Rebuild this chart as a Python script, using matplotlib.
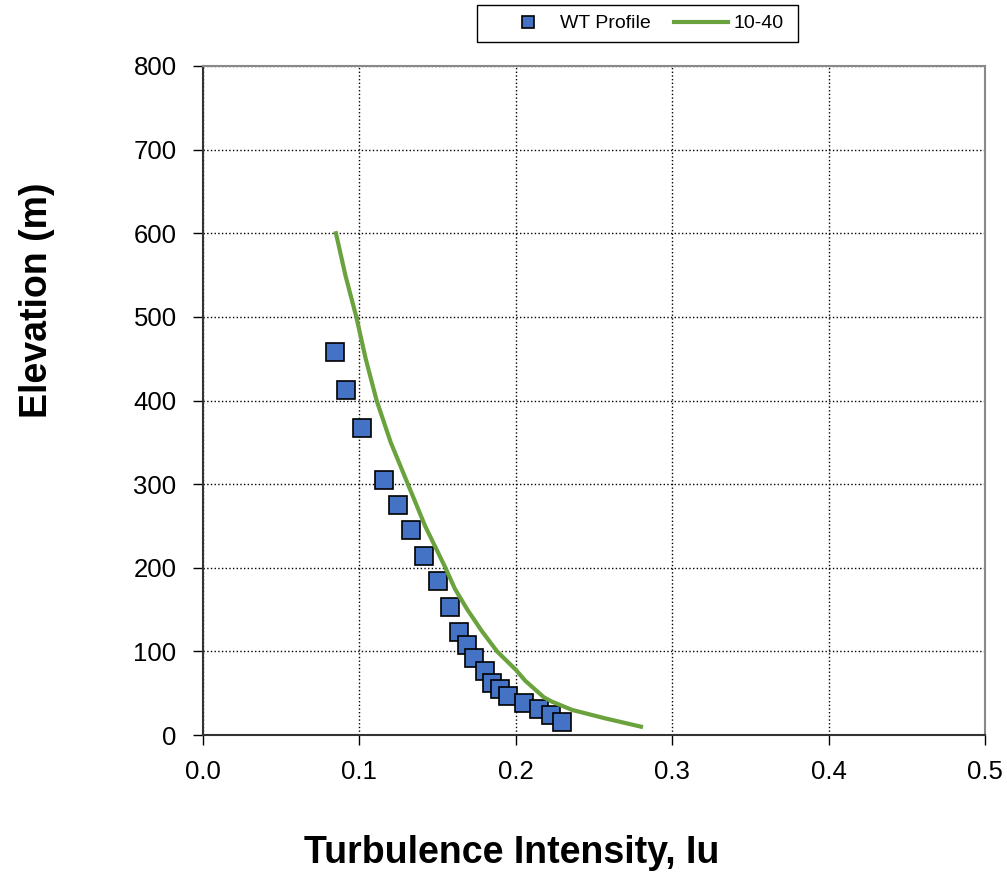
import numpy as np
import matplotlib
matplotlib.use("Agg")
import matplotlib.pyplot as plt
from matplotlib.patches import Rectangle

plt.rcParams['font.family'] = ['Liberation Sans', 'DejaVu Sans']

# wind tunnel measured profile
wt_iu = [0.0844, 0.0914, 0.1017, 0.1157, 0.1247, 0.1330, 0.1413, 0.1500, 0.1580,
         0.1637, 0.1688, 0.1734, 0.1800, 0.1850, 0.1900, 0.1950, 0.2050, 0.2150,
         0.2225, 0.2295]
wt_z = [458, 413, 367, 305, 275, 245, 214, 184, 153,
        123, 108, 92, 77, 62, 55, 47, 38, 31,
        24, 16]

# target 10-40 curve
target_iu = [0.085, 0.091, 0.098, 0.104, 0.111, 0.120, 0.131, 0.142, 0.155, 0.161,
             0.169, 0.178, 0.188, 0.200, 0.206, 0.212, 0.218, 0.223, 0.236, 0.257, 0.280]
target_z = [600, 550, 500, 450, 400, 350, 300, 250, 200, 175,
            150, 125, 100, 78, 65, 55, 45, 40, 30, 20, 10]

xticks = [0.0, 0.1, 0.2, 0.3, 0.4, 0.5]
yticks = [0, 100, 200, 300, 400, 500, 600, 700, 800]

fig = plt.figure(figsize=(10.07, 8.74), dpi=100)
fig.patch.set_facecolor('white')
ax = fig.add_axes([0.2016, 0.159, 0.7766, 0.7655])

ax.plot(wt_iu, wt_z, linestyle='none', marker='s', markersize=13.5,
        markerfacecolor='#4472C4', markeredgecolor='black', markeredgewidth=1.2,
        label='WT Profile', zorder=3)
ax.plot(target_iu, target_z, color='#6AA23E', linewidth=3, label='10-40', zorder=4)

ax.set_xlim(0, 0.5)
ax.set_ylim(0, 800)
ax.set_xticks(xticks)
ax.set_xticklabels(['%.1f' % t for t in xticks])
ax.set_yticks(yticks)
ax.tick_params(axis='both', direction='out', length=7, width=1, labelsize=18.5)
ax.tick_params(axis='y', pad=12)
ax.tick_params(axis='x', pad=11)
ax.grid(True, color='black', linestyle=':', linewidth=1)

for s in ['top', 'right']:
    ax.spines[s].set_color('#888888')
    ax.spines[s].set_linewidth(1.5)
for s in ['left', 'bottom']:
    ax.spines[s].set_color('#333333')
    ax.spines[s].set_linewidth(1.5)

fig.text(0.508, 0.024, 'Turbulence Intensity, Iu', fontsize=27, fontweight='bold',
         ha='center', va='center')
fig.text(0.037, 0.656, 'Elevation (m)', fontsize=27, fontweight='bold',
         ha='center', va='center', rotation=90)

leg = fig.legend(loc='center', bbox_to_anchor=(0.6375, 0.973), ncol=2, fontsize=14,
                 frameon=False, markerscale=0.63, handlelength=2.8,
                 handletextpad=0.25, columnspacing=1.2)
# legend box
fig.patches.append(Rectangle((477 / 1007, 1 - 42 / 874), 321 / 1007, 37 / 874,
                             transform=fig.transFigure, fill=False,
                             edgecolor='black', linewidth=1))

fig.savefig('out.png', dpi=100)
